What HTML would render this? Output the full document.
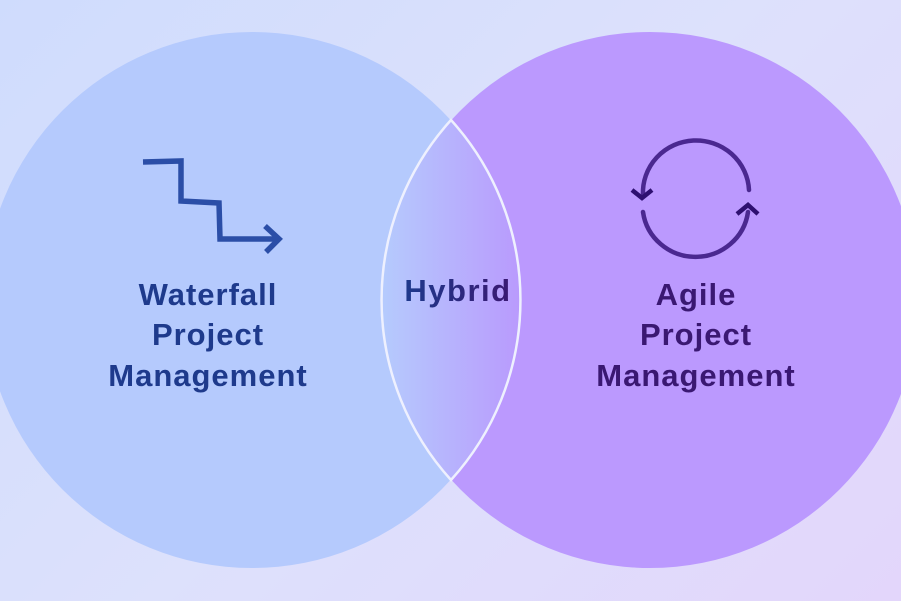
<!DOCTYPE html>
<html><head><style>
html,body{margin:0;padding:0;}
body{width:901px;height:601px;overflow:hidden;background:linear-gradient(135deg,#cfdcfd 0%,#dde1fc 50%,#e3d6fb 100%);}
</style></head><body>
<svg width="901" height="601" viewBox="0 0 901 601" style="position:absolute;left:0;top:0">
<defs>
<linearGradient id="lens" x1="0" x2="1" y1="0" y2="0">
<stop offset="0" stop-color="#b5cbfd"/><stop offset="1" stop-color="#b99afd"/>
</linearGradient>
<linearGradient id="ht" x1="0" x2="1">
<stop offset="0" stop-color="#1e3a8c"/><stop offset="1" stop-color="#3a1872"/>
</linearGradient>
</defs>
<circle cx="252" cy="300" r="268" fill="#b5cafd"/>
<circle cx="650" cy="300" r="268" fill="#bb99fe"/>
<path d="M451,120 A268,268 0 0 0 451,480 A268,268 0 0 0 451,120 Z" fill="url(#lens)" stroke="#eef0fe" stroke-width="2.5"/>
<g fill="none" stroke="#2b4ea7" stroke-width="5.5" stroke-linejoin="miter" stroke-linecap="butt">
<polyline points="143,162 181,161 181,201 219,203 220,239 278,239"/>
<polyline points="265,226 279,239 266,252"/>
</g>
<g fill="none" stroke="#4a2890" stroke-width="4.5" stroke-linecap="round">
<path d="M643,195 A53,52 0 0 1 749,190"/>
<path d="M643,212 A53,52 0 0 0 748,212"/>
</g>
<g fill="none" stroke="#2e1070" stroke-width="4.5">
<polyline points="632,190 642,198 652,190"/>
<polyline points="737,214 748,205 758,214"/>
</g>
<g font-family="Liberation Sans, sans-serif" font-weight="bold" font-size="31" letter-spacing="1" text-anchor="middle">
<text x="208" y="305" fill="#1e3a8c">Waterfall</text>
<text x="208" y="345" fill="#1e3a8c">Project</text>
<text x="208" y="386" fill="#1e3a8c">Management</text>
<text x="458" y="301" fill="url(#ht)" letter-spacing="1.5">Hybrid</text>
<text x="696" y="305" fill="#3a1872">Agile</text>
<text x="696" y="345" fill="#3a1872">Project</text>
<text x="696" y="386" fill="#3a1872">Management</text>
</g>
</svg>
</body></html>
